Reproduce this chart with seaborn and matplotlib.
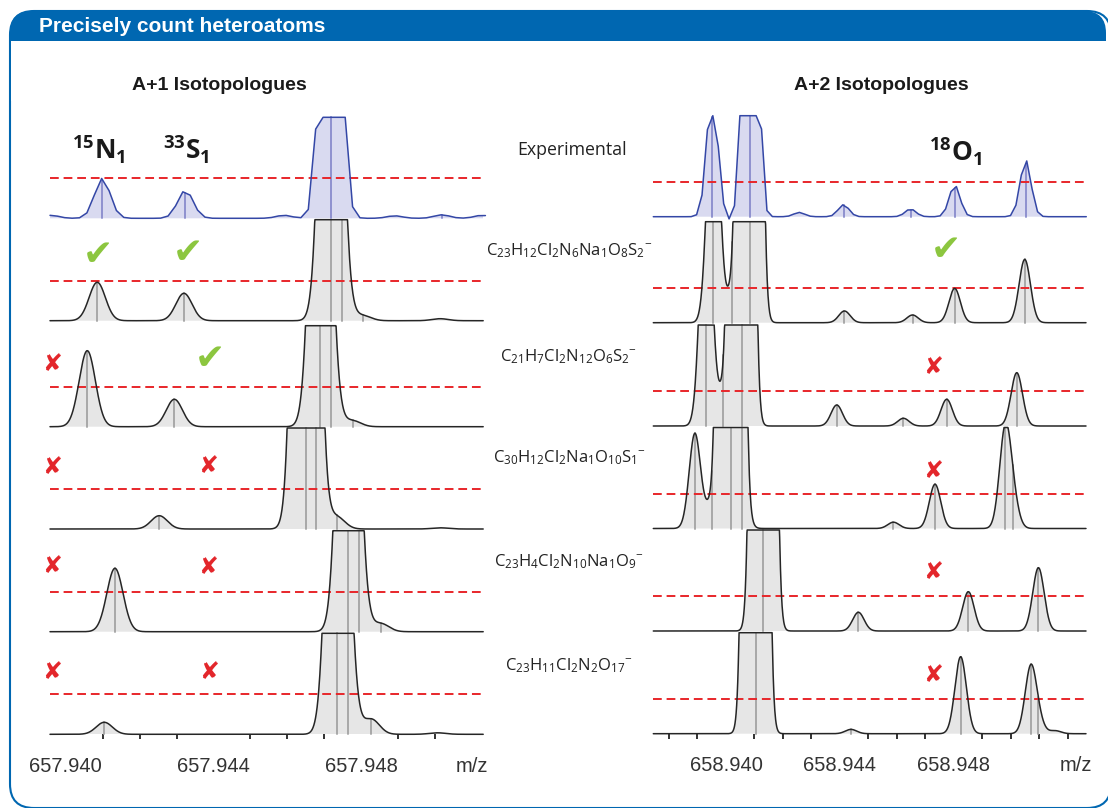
import numpy as np
import matplotlib
matplotlib.use("Agg")
import matplotlib.pyplot as plt
import seaborn as sns
from matplotlib.patches import FancyBboxPatch, Rectangle

sns.set_theme(style="white")
plt.rcParams["font.family"] = ["Liberation Sans", "DejaVu Sans"]
plt.rcParams["mathtext.fontset"] = "custom"
plt.rcParams["mathtext.rm"] = "Open Sans"
plt.rcParams["mathtext.it"] = "Open Sans:italic"
plt.rcParams["mathtext.bf"] = "Open Sans:bold"

# ---------------- data ----------------
header_text = "Precisely count heteroatoms"
panel_titles = ["A+1 Isotopologues", "A+2 Isotopologues"]
row_names = [
    "Experimental",
    r"C_{23}H_{12}Cl_{2}N_{6}Na_{1}O_{8}S_{2}{}^{-}",
    r"C_{21}H_{7}Cl_{2}N_{12}O_{6}S_{2}{}^{-}",
    r"C_{30}H_{12}Cl_{2}Na_{1}O_{10}S_{1}{}^{-}",
    r"C_{23}H_{4}Cl_{2}N_{10}Na_{1}O_{9}{}^{-}",
    r"C_{23}H_{11}Cl_{2}N_{2}O_{17}{}^{-}",
]
isotope_labels_left = [r"^{15}N_{1}", r"^{33}S_{1}"]
isotope_label_right = r"^{18}O_{1}"

# A+1 region (m/z centre, relative height; 100 = full row height)
left_mz = [
    [657.93960, 657.94099, 657.94324, 657.94591, 657.94718, 657.94891, 657.95019, 657.95128],
    [657.94085, 657.94320, 657.94718, 657.94747, 657.94805, 657.95014],
    [657.94058, 657.94294, 657.94690, 657.94718, 657.94777],
    [657.94253, 657.94650, 657.94677, 657.94734, 657.95014],
    [657.94133, 657.94765, 657.94794, 657.94854],
    [657.94104, 657.94736, 657.94765, 657.94828, 657.95007],
]
left_h = [
    [3, 40, 28, 3, 600, 2.5, 3.5, 3],
    [38.4, 27.4, 706, 20, 5, 2],
    [76, 27.4, 557, 15, 6],
    [13.3, 1400, 30, 12, 1.2],
    [63.4, 596, 20, 8],
    [12, 625, 30, 15, 1.5],
]
left_sticks = [
    [657.94099, 657.94324, 657.94718, 657.95019],
    [657.94085, 657.94320, 657.94718, 657.94747, 657.94805],
    [657.94058, 657.94294, 657.94690, 657.94718, 657.94777],
    [657.94253, 657.94650, 657.94677, 657.94734],
    [657.94133, 657.94765, 657.94794, 657.94854],
    [657.94104, 657.94736, 657.94765, 657.94828],
]

# A+2 region
right_mz = [
    [658.93952, 658.94025, 658.94084, 658.94257, 658.94413, 658.94648, 658.94803, 658.95052],
    [658.93956, 658.94022, 658.94083, 658.94416, 658.94655, 658.94803, 658.95049],
    [658.93930, 658.93991, 658.94055, 658.94389, 658.94623, 658.94775, 658.95021],
    [658.93891, 658.93950, 658.94017, 658.94055, 658.94588, 658.94734, 658.94980, 658.95007],
    [658.94131, 658.94465, 658.94851, 658.95097],
    [658.94104, 658.94439, 658.94824, 658.95070, 658.95097, 658.95156],
]
right_h = [
    [130, -5, 900, 4.3, 12, 7.7, 31.7, 57],
    [268, 30, 5130, 11.7, 7.7, 34.3, 63.3],
    [258, 33, 5960, 21, 7.7, 26.7, 53.3],
    [95, 25, 8500, 30, 6.3, 44.3, 95, 25],
    [5960, 18.7, 39.3, 63.3],
    [6940, 4.3, 77, 65.3, 10, 3],
]
right_sticks = [
    [658.93952, 658.94084, 658.94413, 658.94648, 658.94803, 658.95052],
    [658.93956, 658.94022, 658.94083, 658.94416, 658.94655, 658.94803, 658.95049],
    [658.93930, 658.93991, 658.94055, 658.94389, 658.94623, 658.94775, 658.95021],
    [658.93891, 658.93950, 658.94017, 658.94055, 658.94588, 658.94734, 658.94980, 658.95007],
    [658.94131, 658.94465, 658.94851, 658.95097],
    [658.94104, 658.94439, 658.94824, 658.95070, 658.95097],
]

left_major = [657.940, 657.944, 657.948, 657.951]
left_major_labels = ["657.940", "657.944", "657.948", "m/z"]
left_minor = [657.941, 657.942, 657.943, 657.944, 657.945, 657.946,
              657.947, 657.948, 657.949, 657.950, 657.951]
right_major = [658.940, 658.944, 658.948, 658.9523]
right_major_labels = ["658.940", "658.944", "658.948", "m/z"]
right_minor = [658.938, 658.939, 658.940, 658.941, 658.942, 658.943, 658.944,
               658.945, 658.946, 658.947, 658.948, 658.949, 658.950, 658.951, 658.952]

# verdict per row (None = no mark): left N15, left S33, right O18
verdict_n15 = [None, "ok", "bad", "bad", "bad", "bad"]
verdict_s33 = [None, "ok", "ok", "bad", "bad", "bad"]
verdict_o18 = [None, "ok", "bad", "bad", "bad", "bad"]

# ---------------- layout (pixel units of the 1108x808 picture) ----------------
W, H = 1108, 808
fig = plt.figure(figsize=(W / 100, H / 100), dpi=100)
bg = fig.add_axes([0, 0, 1, 1], zorder=0)
bg.set_xlim(0, W)
bg.set_ylim(H, 0)
bg.axis("off")

BLUE = "#0067b1"
frame = FancyBboxPatch((10, 11), 1101, 797, boxstyle="round,pad=0,rounding_size=24",
                       ec=BLUE, fc="white", lw=1.5, zorder=1)
bg.add_patch(frame)
head = FancyBboxPatch((10, 11), 1096, 70, boxstyle="round,pad=0,rounding_size=22",
                      ec="none", fc=BLUE, zorder=2)
bg.add_patch(head)
bg.add_patch(Rectangle((10.8, 40.7), 1097.2, 60, fc="white", ec="none", zorder=3))
bg.text(39, 26.5, header_text, color="white", fontsize=15, fontweight="bold",
        va="center", ha="left", family="Liberation Sans", zorder=4)

left_base = [218.3, 320.7, 426.7, 529.0, 631.7, 734.3]
right_base = [216.7, 322.7, 426.0, 528.5, 631.0, 733.7]
CLIP = 101.0


def make_panel(px0, px1, top, bottom, xlim):
    ax = fig.add_axes([px0 / W, 1 - bottom / H, (px1 - px0) / W, (bottom - top) / H], zorder=2)
    ax.patch.set_alpha(0)
    ax.set_xlim(*xlim)
    ax.set_ylim(bottom, top)
    for s in ax.spines.values():
        s.set_visible(False)
    ax.set_yticks([])
    return ax


axL = make_panel(50, 483.2, 108, left_base[-1], (657.93957, 657.95131))
axR = make_panel(653.3, 1086.0, 108, right_base[-1], (658.93745, 658.95264))


def draw_panel(ax, mzs, hs, sticks, bases, sig, sig_exp, step_exp, red_off):
    x0, x1 = ax.get_xlim()
    for r, (mz, hh, st, b) in enumerate(zip(mzs, hs, sticks, bases)):
        exp = r == 0
        if exp:
            grid = np.arange(x0, x1 + step_exp, step_exp)
            s = sig_exp
            lc, fc, sc, lw = "#3447a6", "#d9daf0", "#8e91cf", 1.1
        else:
            grid = np.linspace(x0, x1, 1600)
            s = sig
            lc, fc, sc, lw = "#262626", "#e6e6e6", "#a8a8a8", 1.1
        y = np.zeros_like(grid)
        for c, a in zip(mz, hh):
            y += a * np.exp(-0.5 * ((grid - c) / s) ** 2)
        y = np.minimum(y, CLIP)
        yy = b - y
        ax.fill_between(grid, b, yy, where=y > 0.4, color=fc, lw=0, interpolate=True, zorder=1)
        for c in st:
            v = np.interp(c, grid, y)
            ax.plot([c, c], [b, b - v], color=sc, lw=1.4, zorder=2, clip_on=False)
        ax.axhline(b - red_off, color="#e8262a", lw=1.4, ls=(0, (4.5, 2.5)), zorder=3)
        sns.lineplot(x=grid, y=yy, ax=ax, color=lc, lw=lw, sort=False, estimator=None, zorder=4)
    for ln in ax.lines:
        ln.set_clip_on(False)


draw_panel(axL, left_mz, left_h, left_sticks, left_base, 0.00022, 0.00021, 0.00020, 40)
draw_panel(axR, right_mz, right_h, right_sticks, right_base, 0.00020, 0.00019, 0.00019, 35)

for ax, maj, lab, mnr in [(axL, left_major, left_major_labels, left_minor),
                          (axR, right_major, right_major_labels, right_minor)]:
    ax.set_xticks(maj)
    ax.set_xticklabels(lab, fontsize=14.5, color="#333333", family="Liberation Sans")
    ax.set_xticks(mnr, minor=True)
    ax.tick_params(axis="x", which="major", length=0, pad=16, bottom=True)
    ax.tick_params(axis="x", which="minor", length=3.8, width=1.3, color="#222222",
                   direction="out", bottom=True)

# titles
bg.text(219, 85, panel_titles[0], fontsize=14, fontweight="bold", ha="center", va="center",
        color="#1a1a1a", family="Liberation Sans")
bg.text(881, 85, panel_titles[1], fontsize=14, fontweight="bold", ha="center", va="center",
        color="#1a1a1a", family="Liberation Sans")

# isotope labels
for (x, lab) in zip([99, 186], isotope_labels_left):
    bg.text(x, 150, r"$\mathregular{" + lab + "}$", fontsize=19, fontweight="bold",
            ha="center", va="center", color="#1a1a1a", family="Open Sans")
bg.text(956, 152, r"$\mathregular{" + isotope_label_right + "}$", fontsize=19,
        fontweight="bold", ha="center", va="center", color="#1a1a1a", family="Open Sans")

# row names
name_y = [150, 251, 357, 458, 562, 666]
for i, (nm, y) in enumerate(zip(row_names, name_y)):
    txt = nm if i == 0 else r"$\mathregular{" + nm + "}$"
    bg.text(569 if i else 572, y, txt, fontsize=12.8 if i == 0 else 12, ha="center",
            va="center", color="#222222", family="Open Sans")

# verdict marks
GREEN, RED = "#8cc63f", "#e3262b"
n15_pos = [None, (98, 255), (52, 364), (52, 467), (52, 566), (52, 672)]
s33_pos = [None, (188, 253), (210, 359), (208, 466), (208, 567), (209, 672)]
o18_pos = [None, (946, 250), (933, 367), (933, 471), (933, 572), (933, 675)]


def mark(v, p):
    if v is None:
        return
    if v == "ok":
        bg.text(p[0], p[1], "\u2714", color=GREEN, fontsize=26, ha="center", va="center",
                family="DejaVu Sans")
    else:
        bg.text(p[0], p[1], "\u2718", color=RED, fontsize=17, ha="center", va="center",
                family="DejaVu Sans")


for vs, ps in [(verdict_n15, n15_pos), (verdict_s33, s33_pos), (verdict_o18, o18_pos)]:
    for v, p in zip(vs, ps):
        mark(v, p)

fig.savefig("out.png", dpi=100)
